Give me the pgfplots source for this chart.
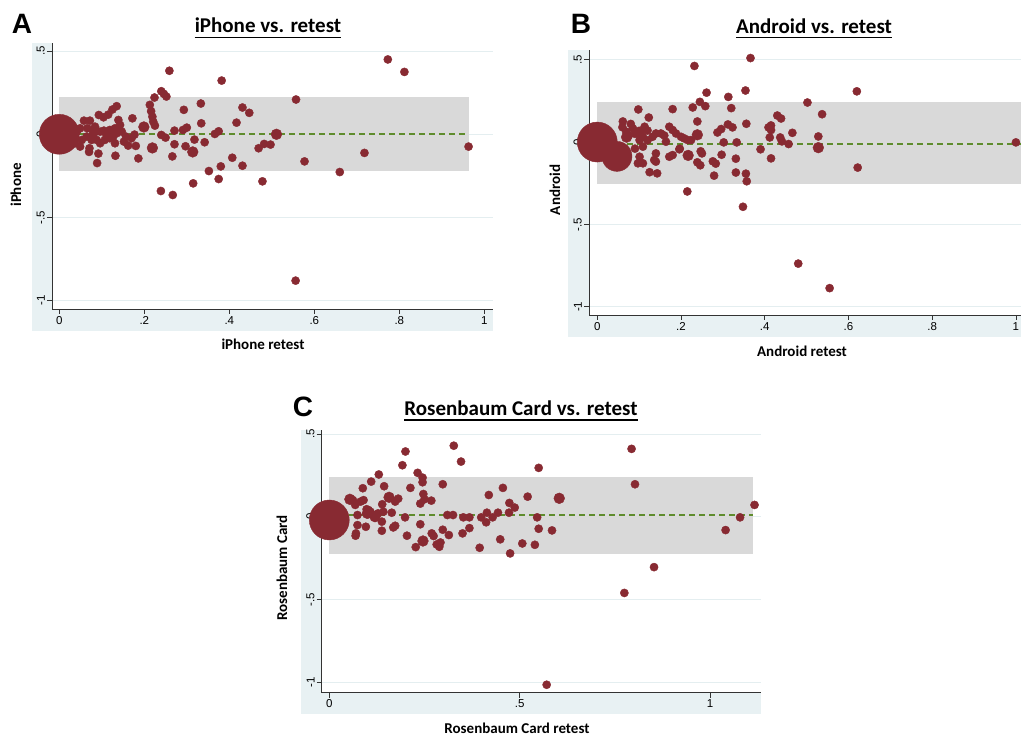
\documentclass[border=0pt]{standalone}
\usepackage{pgfplots}
\pgfplotsset{compat=1.18}
\usepackage{fontspec}
\setmainfont{Liberation Sans}
\newfontfamily\lsans{Liberation Sans}
\newfontfamily\carl{Carlito}
\newcommand\tickfont{\lsans\fontsize{11.5}{13}\selectfont}
\newcommand\titfont{\carl\bfseries\fontsize{21}{25}\selectfont}
\newcommand\labfont{\carl\bfseries\fontsize{15}{18}\selectfont}
\newcommand\letfont{\lsans\bfseries\fontsize{28}{32}\selectfont}
\definecolor{mred}{RGB}{136,42,50}
\definecolor{bandc}{RGB}{217,217,217}
\definecolor{bluec}{RGB}{232,241,243}
\definecolor{gridc}{RGB}{228,238,240}
\definecolor{dashc}{RGB}{95,140,45}
\pgfplotsset{
 stata/.style={
  scale only axis,
  axis x line*=bottom, axis y line*=left,
  axis line style={draw=black!80, line width=0.8pt, -},
  tick align=outside,
  major tick length=5pt,
  tick style={draw=black!80, line width=0.7pt},
  ytick={-1,-0.5,0,0.5}, yticklabels={-1,-.5,0,.5},
  yticklabel style={rotate=90, anchor=south, font=\tickfont, inner sep=2pt},
  xticklabel style={font=\tickfont, inner sep=2pt},
  ymajorgrids, major grid style={draw=gridc, line width=0.8pt},
  axis background/.style={fill=white},
  anchor=south west,
 },
 small/.style={only marks, mark=*, mark size=4.1pt, color=mred},
 mid/.style={only marks, mark=*, mark size=5.4pt, color=mred},
 dline/.style={draw=dashc, line width=1.7pt, dash pattern=on 6pt off 4pt},
}
\begin{document}
\begin{tikzpicture}[x=1pt,y=1pt]
\useasboundingbox (0,0) rectangle (1021,738);
% background regions
\fill[bluec] (32,407) rectangle (493,695);
\fill[bluec] (568,401) rectangle (1045,688);
\fill[bluec] (300.7,24) rectangle (761,308);

% ---------------- Panel A ----------------
\begin{axis}[stata, at={(52pt,429pt)}, width=441pt, height=266pt,
  xmin=-0.0172, xmax=1.0205, ymin=-1.0505, ymax=0.549,
  xtick={0,0.2,0.4,0.6,0.8,1}, xticklabels={0,.2,.4,.6,.8,1}]
\addplot[fill=bandc, draw=none] coordinates {(0,-0.22) (0.964,-0.22) (0.964,0.222) (0,0.222)} -- cycle;
\addplot[small] coordinates {
(0.773,0.450) (0.812,0.375) (0.259,0.382) (0.382,0.323) (0.557,0.209) (0.333,0.185)
(0.431,0.161) (0.447,0.129) (0.293,0.147) (0.240,0.259) (0.246,0.243) (0.252,0.227)
(0.224,0.221) (0.213,0.177) (0.216,0.139) (0.219,0.106) (0.221,0.076) (0.225,0.052)
(0.172,0.096) (0.135,0.169) (0.125,0.149) (0.115,0.118) (0.093,0.116) (0.104,0.102)
(0.417,0.070) (0.334,0.066) (0.300,0.040) (0.291,0.026) (0.271,0.022) (0.375,0.018)
(0.366,0.002) (0.177,-0.002) (0.240,-0.004) (0.250,-0.020) (0.318,-0.032) (0.342,-0.048)
(0.180,-0.070) (0.271,-0.060) (0.297,-0.072) (0.469,-0.084) (0.482,-0.058) (0.497,-0.062)
(0.963,-0.074) (0.718,-0.112) (0.407,-0.141) (0.266,-0.133) (0.186,-0.145) (0.132,-0.129)
(0.092,-0.116) (0.070,-0.106) (0.577,-0.163) (0.380,-0.193) (0.431,-0.189) (0.089,-0.173)
(0.352,-0.221) (0.660,-0.227) (0.375,-0.269) (0.478,-0.283) (0.315,-0.295) (0.239,-0.341)
(0.267,-0.365) (0.556,-0.880)
(0.058,0.082) (0.072,0.082) (0.049,0.036) (0.066,0.036) (0.084,0.046) (0.096,0.016)
(0.105,0.022) (0.119,0.026) (0.131,0.036) (0.143,0.056) (0.147,0.016) (0.157,-0.014)
(0.162,-0.068) (0.152,-0.044) (0.131,-0.054) (0.119,-0.024) (0.107,-0.034) (0.096,-0.054)
(0.088,-0.034) (0.076,-0.034) (0.064,-0.014) (0.053,-0.034) (0.071,-0.084) (0.049,-0.074)
(0.037,-0.054) (0.041,0.016) (0.033,0.006) (0.139,0.086) (0.127,-0.014) (0.135,0.006)
(0.170,-0.024) (0.080,0.006) (0.111,-0.004)
};
\addplot[mid] coordinates {(0.199,0.044) (0.511,0.0) (0.219,-0.082) (0.314,-0.106) (0.083,0.020)};
\addplot[only marks, mark=*, mark size=20pt, color=mred] coordinates {(0,0)};
\addplot[dline] coordinates {(0,0.002) (0.964,0.002)};
\end{axis}

% ---------------- Panel B ----------------
\begin{axis}[stata, at={(589pt,423pt)}, width=444.5pt, height=265pt,
  xmin=-0.0198, xmax=1.042, ymin=-1.050, ymax=0.559,
  xtick={0,0.2,0.4,0.6,0.8,1}, xticklabels={0,.2,.4,.6,.8,1}]
\addplot[fill=bandc, draw=none] coordinates {(0,-0.257) (1.042,-0.257) (1.042,0.241) (0,0.241)} -- cycle;
\addplot[small] coordinates {
(0.366,0.510) (0.232,0.462) (0.354,0.313) (0.620,0.308) (0.261,0.300) (0.313,0.274)
(0.502,0.240) (0.245,0.244) (0.258,0.218) (0.228,0.210) (0.320,0.206) (0.098,0.198)
(0.180,0.200) (0.537,0.169) (0.430,0.161) (0.439,0.143) (0.123,0.149) (0.239,0.125)
(0.061,0.125) (0.356,0.111) (0.312,0.107) (0.323,0.089) (0.409,0.089) (0.415,0.101)
(0.415,0.073) (0.296,0.079) (0.287,0.058) (0.466,0.056) (0.412,0.028) (0.437,0.028)
(0.528,0.034) (0.441,0.004) (0.457,-0.012) (0.302,-0.002) (0.333,-0.002) (0.390,-0.044)
(1.0,-0.002) (0.247,-0.056) (0.250,-0.069) (0.197,-0.040) (0.297,-0.077) (0.331,-0.101)
(0.415,-0.099) (0.276,-0.117) (0.283,-0.131) (0.239,-0.123) (0.246,-0.141) (0.622,-0.155)
(0.125,-0.183) (0.143,-0.190) (0.279,-0.204) (0.331,-0.185) (0.355,-0.192) (0.357,-0.238)
(0.215,-0.300) (0.348,-0.393) (0.480,-0.738) (0.555,-0.887)
(0.172,0.093) (0.180,0.073) (0.188,0.052) (0.200,0.032) (0.208,0.022) (0.216,0.012)
(0.224,0.012) (0.164,0.002) (0.152,0.052) (0.140,0.052) (0.132,0.032) (0.113,0.093)
(0.109,0.032) (0.085,0.083) (0.069,0.063) (0.101,0.012) (0.109,-0.028) (0.101,-0.089)
(0.097,-0.129) (0.109,-0.129) (0.140,-0.069) (0.136,-0.109) (0.140,-0.119) (0.172,-0.089)
(0.180,-0.079) (0.196,-0.044) (0.075,0.040) (0.090,0.050) (0.120,0.070) (0.060,0.090)
(0.080,0.110) (0.120,0.010) (0.090,-0.040) (0.160,0.040)
};
\addplot[mid] coordinates {(0.239,0.044) (0.528,-0.034) (0.217,-0.081) (0.070,0.030) (0.100,0.060)};
\addplot[only marks, mark=*, mark size=15pt, color=mred] coordinates {(0.047,-0.087)};
\addplot[only marks, mark=*, mark size=20pt, color=mred] coordinates {(0,0)};
\addplot[dline] coordinates {(0,-0.01) (1.042,-0.01)};
\end{axis}

% ---------------- Panel C ----------------
\begin{axis}[stata, at={(321.7pt,45.3pt)}, width=439.3pt, height=262.7pt,
  xmin=-0.020, xmax=1.134, ymin=-1.064, ymax=0.524,
  xtick={0,0.5,1}, xticklabels={0,.5,1}]
\addplot[fill=bandc, draw=none] coordinates {(0,-0.226) (1.114,-0.226) (1.114,0.238) (0,0.238)} -- cycle;
\addplot[small] coordinates {
(0.327,0.429) (0.794,0.410) (0.200,0.394) (0.346,0.333) (0.192,0.311) (0.550,0.295)
(0.232,0.265) (0.130,0.255) (0.245,0.236) (0.245,0.208) (0.110,0.212) (0.803,0.196)
(0.298,0.196) (0.144,0.184) (0.088,0.172) (0.213,0.174) (0.456,0.174) (0.247,0.137)
(0.419,0.131) (0.521,0.121) (0.181,0.109) (0.173,0.091) (0.268,0.097) (0.250,0.105)
(0.239,0.079) (0.139,0.075) (0.473,0.083) (0.487,0.055) (0.082,0.091) (0.068,0.071)
(0.103,0.040) (0.116,0.010) (0.142,0.030) (0.164,0.024) (1.117,0.071) (0.310,0.010)
(0.325,0.010) (0.443,0.024) (0.472,0.024) (0.414,0.024) (0.352,-0.004) (0.368,-0.004)
(0.399,-0.004) (0.429,-0.004) (0.199,-0.004) (0.546,-0.004) (1.079,-0.004) (0.074,0.010)
(0.138,-0.030) (0.412,-0.034) (0.239,-0.046) (0.074,-0.051) (0.096,-0.061) (0.173,-0.055)
(0.168,-0.065) (0.368,-0.069) (0.550,-0.073) (1.041,-0.081) (0.298,-0.079) (0.585,-0.083)
(0.138,-0.085) (0.070,-0.101) (0.350,-0.101) (0.269,-0.101) (0.274,-0.117) (0.314,-0.111)
(0.204,-0.115) (0.069,-0.115) (0.449,-0.137) (0.292,-0.156) (0.282,-0.168) (0.289,-0.182)
(0.227,-0.184) (0.507,-0.162) (0.540,-0.170) (0.395,-0.188) (0.475,-0.222) (0.853,-0.305)
(0.775,-0.461) (0.571,-1.016)
(0.098,0.045) (0.108,0.030) (0.120,0.000) (0.128,0.020) (0.062,0.100) (0.090,0.100)
};
\addplot[mid] coordinates {(0.604,0.111) (0.157,0.117) (0.054,0.105) (0.246,-0.147) (0.100,0.020) (0.120,0.000)};
\addplot[only marks, mark=*, mark size=20pt, color=mred] coordinates {(0,-0.02)};
\addplot[dline] coordinates {(0,0.009) (1.114,0.009)};
\end{axis}

% ---------------- Texts ----------------
\node[anchor=base, inner sep=0pt, font=\letfont] at (22,704.7) {A};
\node[anchor=base, inner sep=0pt, font=\letfont] at (581,704.7) {B};
\node[anchor=base, inner sep=0pt, font=\letfont] at (303,321.3) {C};

\node[anchor=base, inner sep=0pt, font=\titfont] (tA) at (268,705) {iPhone vs. retest};
\draw[line width=1.5pt] ([yshift=-4.3pt]tA.base west) -- ([yshift=-4.3pt]tA.base east);
\node[anchor=base, inner sep=0pt, font=\titfont] (tB) at (814,704.7) {Android vs. retest};
\draw[line width=1.5pt] ([yshift=-4.3pt]tB.base west) -- ([yshift=-4.3pt]tB.base east);
\node[anchor=base, inner sep=0pt, font=\titfont] (tC) at (521,322.3) {Rosenbaum Card vs. retest};
\draw[line width=1.5pt] ([yshift=-4.3pt]tC.base west) -- ([yshift=-4.3pt]tC.base east);

\node[anchor=base, inner sep=0pt, font=\labfont] at (263,388) {iPhone retest};
\node[anchor=base, inner sep=0pt, font=\labfont] at (802,381.3) {Android retest};
\node[anchor=base, inner sep=0pt, font=\labfont] at (517,4) {Rosenbaum Card retest};

\node[rotate=90, inner sep=0pt, font=\labfont] at (16,553) {iPhone};
\node[rotate=90, inner sep=0pt, font=\labfont] at (555,548) {Android};
\node[rotate=90, inner sep=0pt, font=\labfont] at (282,170) {Rosenbaum Card};
\end{tikzpicture}
\end{document}
